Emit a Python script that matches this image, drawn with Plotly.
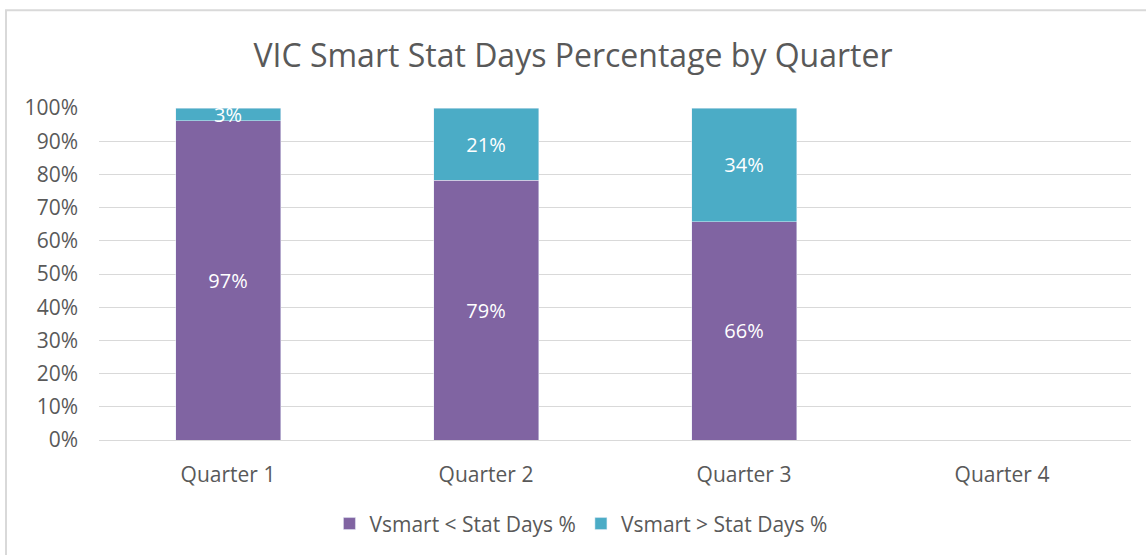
import plotly.graph_objects as go

quarters = ["Quarter 1", "Quarter 2", "Quarter 3", "Quarter 4"]
below_vals = [96.2, 78.3, 65.8, 0]
above_vals = [3.8, 21.7, 34.2, 0]
below_labels = ["97%", "79%", "66%", ""]
above_labels = ["3%", "21%", "34%", ""]
tick_vals = [0, 10, 20, 30, 40, 50, 60, 70, 80, 90, 100]
tick_text = [f"{v}%" for v in tick_vals]

FONT = "Open Sans"
GREY = "#595959"

fig = go.Figure()
fig.add_trace(go.Bar(x=quarters, y=below_vals, name="Vsmart < Stat Days %",
                     marker_color="#8064A2", text=below_labels, textposition="inside",
                     insidetextanchor="middle",
                     textfont=dict(color="white", size=20, family=FONT)))
fig.add_trace(go.Bar(x=quarters, y=above_vals, name="Vsmart > Stat Days %",
                     marker_color="#4BACC6", text=above_labels, textposition="inside",
                     insidetextanchor="middle", constraintext="none",
                     textfont=dict(color="white", size=20, family=FONT)))

fig.update_layout(
    barmode="stack", bargap=0.593,
    width=1146, height=555,
    margin=dict(l=99, r=15, t=108, b=114),
    paper_bgcolor="white", plot_bgcolor="white",
    font=dict(family=FONT, color=GREY, size=21),
    title=dict(text="VIC Smart Stat Days Percentage by Quarter", x=0.5, xanchor="center",
               y=0.9, yanchor="middle", yref="container",
               font=dict(size=32, color=GREY, family=FONT)),
    legend=dict(orientation="h", x=0.467, xanchor="center", y=-0.249, yanchor="middle",
                font=dict(size=21, color=GREY), itemwidth=30, traceorder="normal"),
    uniformtext=dict(minsize=20, mode="show"),
    shapes=[dict(type="rect", xref="paper", yref="paper", x0=-0.0901, y0=-0.4,
                 x1=1.03, y1=1.2943, line=dict(color="#d9d9d9", width=2),
                 fillcolor="rgba(0,0,0,0)", layer="below")],
)
fig.update_yaxes(range=[0, 100], tickvals=tick_vals, ticktext=tick_text,
                 showgrid=True, gridcolor="#d9d9d9", gridwidth=1,
                 zeroline=False, showline=False, ticklabelstandoff=20,
                 tickfont=dict(size=21, color=GREY))
fig.update_xaxes(showline=True, linecolor="#d9d9d9", linewidth=1, showgrid=False,
                 ticklabelstandoff=16, tickfont=dict(size=21, color=GREY))

fig.write_html("out.html", config={"displayModeBar": False},
               post_script="document.body.style.margin='0';document.body.style.overflow='hidden';")
